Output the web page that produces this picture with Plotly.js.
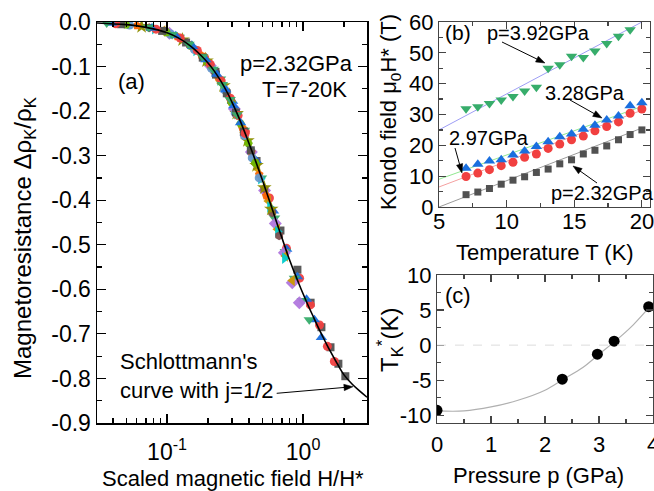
<!DOCTYPE html>
<html><head><meta charset="utf-8">
<script src="https://cdn.plot.ly/plotly-3.0.1.min.js"></script>
<style>html,body{margin:0;padding:0;background:#fff}#plot{width:654px;height:491px}</style>
</head><body><div id="plot"></div><script>
// ---------- panel (a): scaled magnetoresistance, p = 2.32 GPa, T = 7-20 K ----------
const seriesTemps = [7,7.9,8.7,9.6,10.5,11.3,12.2,13.0,13.9,14.8,15.7,16.5,17.4,18.3,19.1,20];
const scaledField = [
 [0.227,0.455,0.682,0.909,1.136,1.364,1.591,1.818,2.045],
 [0.189,0.377,0.566,0.755,0.943,1.132,1.321,1.509,1.698],
 [0.152,0.303,0.455,0.606,0.758,0.909,1.061,1.212,1.364],
 [0.123,0.247,0.370,0.494,0.617,0.741,0.864,0.988,1.111],
 [0.104,0.208,0.313,0.417,0.521,0.625,0.729,0.833,0.938],
 [0.093,0.185,0.278,0.370,0.463,0.556,0.648,0.741,0.833],
 [0.081,0.163,0.244,0.325,0.407,0.488,0.569,0.650,0.732],
 [0.074,0.148,0.222,0.296,0.370,0.444,0.519,0.593,0.667],
 [0.065,0.130,0.195,0.260,0.325,0.390,0.455,0.519,0.584],
 [0.060,0.119,0.179,0.238,0.298,0.357,0.417,0.476,0.536],
 [0.053,0.106,0.159,0.212,0.265,0.317,0.370,0.423,0.476],
 [0.050,0.099,0.149,0.198,0.248,0.297,0.347,0.396,0.446],
 [0.046,0.092,0.138,0.183,0.229,0.275,0.321,0.367,0.413],
 [0.042,0.083,0.125,0.167,0.208,0.250,0.292,0.333,0.375],
 [0.039,0.077,0.116,0.154,0.193,0.232,0.270,0.309,0.347],
 [0.036,0.073,0.109,0.145,0.182,0.218,0.255,0.291,0.327]];
const magnetoRes = [
 [-0.112,-0.312,-0.468,-0.556,-0.630,-0.685,-0.730,-0.767,-0.795],
 [-0.080,-0.246,-0.395,-0.508,-0.575,-0.635,-0.680,-0.728,-0.762],
 [-0.052,-0.178,-0.312,-0.424,-0.510,-0.572,-0.622,-0.668,-0.708],
 [-0.034,-0.128,-0.243,-0.350,-0.440,-0.515,-0.575,-0.625,-0.668],
 [-0.025,-0.098,-0.195,-0.292,-0.378,-0.452,-0.518,-0.585,-0.630],
 [-0.020,-0.080,-0.160,-0.248,-0.330,-0.402,-0.465,-0.525,-0.580],
 [-0.015,-0.064,-0.130,-0.206,-0.285,-0.352,-0.415,-0.470,-0.530],
 [-0.013,-0.053,-0.110,-0.178,-0.248,-0.314,-0.374,-0.428,-0.480],
 [-0.010,-0.040,-0.087,-0.143,-0.205,-0.266,-0.322,-0.372,-0.420],
 [-0.008,-0.033,-0.075,-0.125,-0.180,-0.237,-0.292,-0.342,-0.390],
 [-0.007,-0.027,-0.062,-0.104,-0.152,-0.204,-0.255,-0.305,-0.350],
 [-0.006,-0.023,-0.053,-0.090,-0.133,-0.180,-0.228,-0.272,-0.316],
 [-0.005,-0.020,-0.046,-0.080,-0.118,-0.160,-0.203,-0.246,-0.288],
 [-0.004,-0.016,-0.036,-0.064,-0.095,-0.132,-0.171,-0.210,-0.250],
 [-0.003,-0.014,-0.031,-0.055,-0.085,-0.117,-0.152,-0.188,-0.226],
 [-0.002,-0.012,-0.028,-0.050,-0.078,-0.106,-0.140,-0.174,-0.208]];
// Schlottmann's curve (j = 1/2)
const schlottX = [0.03,0.05,0.07,0.1,0.12,0.14,0.16,0.18,0.2,0.22,0.25,0.28,0.3,0.33,0.36,0.4,0.45,0.5,0.55,0.6,0.65,0.7,0.75,0.8,0.85,0.9,1.0,1.1,1.2,1.3,1.4,1.5,1.6,1.8,2.0,2.3,2.6,2.95];
const schlottY = [-0.002,-0.006,-0.012,-0.024,-0.035,-0.048,-0.062,-0.077,-0.092,-0.108,-0.134,-0.161,-0.180,-0.208,-0.236,-0.272,-0.314,-0.353,-0.390,-0.424,-0.456,-0.485,-0.512,-0.536,-0.557,-0.576,-0.610,-0.639,-0.664,-0.687,-0.707,-0.725,-0.741,-0.769,-0.792,-0.813,-0.828,-0.842];
const mrTickVals = [0,-0.1,-0.2,-0.3,-0.4,-0.5,-0.6,-0.7,-0.8,-0.9];
const mrTickText = ['0.0','-0.1','-0.2','-0.3','-0.4','-0.5','-0.6','-0.7','-0.8','-0.9'];
const fieldTickVals = [0.1,1];
const fieldTickText = ['10<sup>-1</sup>','10<sup>0</sup>'];
const fieldMinorVals = [0.04,0.05,0.06,0.07,0.08,0.09,0.2,0.3,0.4,0.5,0.6,0.7,0.8,0.9,2];

// ---------- panel (b): Kondo field vs temperature ----------
const kondoT = [7,7.87,8.73,9.6,10.47,11.33,12.2,13.07,13.93,14.8,15.67,16.53,17.4,18.27,19.13,20];
const kondoH232 = [4.0,4.85,6.0,7.4,8.7,9.8,11.2,12.3,14.0,15.3,17.2,18.4,19.8,21.8,23.5,25.0];
const kondoH297 = [9.9,11.0,12.1,13.4,14.5,16.1,17.2,19.0,20.4,21.8,23.0,24.7,26.1,27.6,30.4,31.8];
const kondoH328 = [12.6,13.9,14.9,15.3,16.9,18.2,19.6,21.2,22.8,23.7,25.2,26.5,28.2,29.5,32.8,33.8];
const kondoT392 = [7,7.87,8.73,9.6,10.47,11.33,12.2,13.07,13.93,14.8,15.67,16.53,17.4,18.27,19.13];
const kondoH392 = [31.9,32.5,33.6,34.7,35.8,37.6,38.8,45.0,46.1,48.9,48.5,50.6,53.0,55.4,57.5];
const fitT = [5,20];
const fitH232 = [0,25.6];
const fitH297 = [6.5,31.4];
const fitH328 = [9.0,32.6];
const fitH392 = [25.0,60.0];
const tempTickVals = [5,10,15,20];
const kondoTickVals = [0,10,20,30,40,50,60];

// ---------- panel (c): T_K* vs pressure ----------
const pressure = [0,2.32,2.97,3.28,3.92];
const tkStar = [-9.3,-4.86,-1.29,0.57,5.48];
const tkFitP = [0,0.5,1.0,1.5,2.0,2.34,2.7,3.0,3.3,3.63,3.94];
const tkFitT = [-9.38,-9.38,-8.81,-7.86,-6.43,-4.86,-3.19,-1.29,0.57,2.86,5.48];
const pressTickVals = [0,1,2,3,4];
const tkTickVals = [10,5,0,-5,-10];
const tkTickText = ['10','5','0','-5','-10'];

const palette = ['#515151','#F14040','#1A6FDF','#37AD6B','#B177DE','#CC9900','#00CBCC','#7D4E4E','#8E8E00','#FB6501','#6699CC','#6FB802'];
const symbols = ['square','circle','triangle-up','triangle-down','diamond','triangle-left','triangle-right','hexagon','star','pentagon','circle','hexagon2'];
const sizes = {'square':8,'circle':9,'triangle-up':10,'triangle-down':10,'diamond':10,'triangle-left':10,'triangle-right':10,'hexagon':9,'star':11,'pentagon':9,'hexagon2':9};

const traces = [];
seriesTemps.forEach((T,i)=>{
  const sym = symbols[i % symbols.length];
  traces.push({x:scaledField[i], y:magnetoRes[i], xaxis:'x', yaxis:'y', type:'scatter', mode:'markers',
    name:T+' K', marker:{symbol:sym, size:sizes[sym], color:palette[i % palette.length], line:{width:0}, opacity:0.95}});
});
traces.push({x:schlottX, y:schlottY, xaxis:'x', yaxis:'y', mode:'lines', line:{color:'#000', width:1.6, shape:'spline'}});

traces.push({x:fitT, y:fitH232, xaxis:'x2', yaxis:'y2', mode:'lines', line:{color:'#9a9a9a', width:1}});
traces.push({x:fitT, y:fitH297, xaxis:'x2', yaxis:'y2', mode:'lines', line:{color:'#f4a0a0', width:1}});
traces.push({x:fitT, y:fitH328, xaxis:'x2', yaxis:'y2', mode:'lines', line:{color:'#90e890', width:1}});
traces.push({x:fitT, y:fitH392, xaxis:'x2', yaxis:'y2', mode:'lines', line:{color:'#9d9df5', width:1}});
traces.push({x:kondoT, y:kondoH232, xaxis:'x2', yaxis:'y2', mode:'markers', marker:{symbol:'square', size:7, color:'#515151'}});
traces.push({x:kondoT, y:kondoH297, xaxis:'x2', yaxis:'y2', mode:'markers', marker:{symbol:'circle', size:9, color:'#F14040'}});
traces.push({x:kondoT, y:kondoH328, xaxis:'x2', yaxis:'y2', mode:'markers', marker:{symbol:'triangle-up', size:10, color:'#1A6FDF'}});
traces.push({x:kondoT392, y:kondoH392, xaxis:'x2', yaxis:'y2', mode:'markers', marker:{symbol:'triangle-down', size:10, color:'#37AD6B'}});

traces.push({x:tkFitP, y:tkFitT, xaxis:'x3', yaxis:'y3', mode:'lines', line:{color:'#b0b0b0', width:1.2, shape:'spline'}});
traces.push({x:pressure, y:tkStar, xaxis:'x3', yaxis:'y3', mode:'markers', marker:{symbol:'circle', size:11, color:'#000'}});

const W=654, H=491;
const px = v => v/W, py = v => 1 - v/H;
const FONT = 'Liberation Sans, Arial, sans-serif';
const axBase = {showgrid:false, zeroline:false, showline:true, mirror:'allticks', ticks:'inside', ticklabeloverflow:'allow',
  ticklen:7, tickwidth:1.2, tickfont:{size:22, color:'#000', family:FONT}};

const layout = {
  width:W, height:H, margin:{l:0,r:0,t:0,b:0}, paper_bgcolor:'#fff', plot_bgcolor:'#fff',
  showlegend:false, font:{family:FONT, color:'#000', size:22},
  xaxis:Object.assign({}, axBase, {domain:[px(97),px(367)], anchor:'y', type:'log', range:[-1.515,0.47],
    tickmode:'array', tickvals:fieldTickVals, ticktext:fieldTickText, linecolor:'#000', linewidth:1.5, tickcolor:'#000', ticklen:9,
    ticklabelstandoff:8, tickfont:{size:23, color:'#000', family:FONT},
    minor:{tickmode:'array', tickvals:fieldMinorVals, ticks:'inside', ticklen:5, tickcolor:'#000', tickwidth:1.2}}),
  yaxis:Object.assign({}, axBase, {domain:[py(423),py(22)], anchor:'x', range:[-0.9,0],
    tickmode:'array', tickvals:mrTickVals, ticktext:mrTickText, linecolor:'#000', linewidth:1.5, tickcolor:'#000', ticklen:9,
    tickfont:{size:23, color:'#000', family:FONT},
    minor:{dtick:0.05, ticks:'inside', ticklen:5, tickcolor:'#000', tickwidth:1.2}}),
  xaxis2:Object.assign({}, axBase, {domain:[px(439),px(650)], anchor:'y2', range:[5,20.6],
    tickmode:'array', tickvals:tempTickVals, linecolor:'#444', linewidth:1, tickcolor:'#444', ticklabelstandoff:-5,
    minor:{dtick:2.5, ticks:'inside', ticklen:4, tickcolor:'#444'}}),
  yaxis2:Object.assign({}, axBase, {domain:[py(207),py(22)], anchor:'x2', range:[0,60],
    tickmode:'array', tickvals:kondoTickVals, linecolor:'#444', linewidth:1, tickcolor:'#444',
    minor:{dtick:5, ticks:'inside', ticklen:4, tickcolor:'#444'}}),
  xaxis3:Object.assign({}, axBase, {domain:[px(437),px(653)], anchor:'y3', range:[0,4],
    tickmode:'array', tickvals:pressTickVals, linecolor:'#444', linewidth:1, tickcolor:'#444', ticklabelstandoff:2,
    minor:{dtick:0.5, ticks:'inside', ticklen:4, tickcolor:'#444'}}),
  yaxis3:Object.assign({}, axBase, {domain:[py(423),py(275)], anchor:'x3', range:[-11.1,10],
    tickmode:'array', tickvals:tkTickVals, ticktext:tkTickText, linecolor:'#444', linewidth:1, tickcolor:'#444',
    minor:{dtick:2.5, ticks:'inside', ticklen:4, tickcolor:'#444'}}),
  shapes:[{type:'line', xref:'x3 domain', x0:0, x1:1, yref:'y3', y0:0, y1:0, line:{color:'#dcdcdc', width:1, dash:'dash'}}],
  annotations:[]
};
const A = layout.annotations, S = layout.shapes;
function txt(t, x, y, size, opts){ A.push(Object.assign({text:t, xref:'paper', yref:'paper', x:px(x), y:py(y), xanchor:'center', yanchor:'middle', showarrow:false, font:{size:size, color:'#000', family:FONT}}, opts||{})); }
// arrow drawn as a line shape with a filled triangular head (pixel positions of the annotation arrows)
function arrow(hx, hy, tx, ty){
  const dx = hx-tx, dy = hy-ty, L = Math.hypot(dx,dy), ux = dx/L, uy = dy/L, nx = -uy, ny = ux;
  const hl = 9, hw = 3.2;
  const bx = hx-ux*hl, by = hy-uy*hl;
  S.push({type:'line', xref:'paper', yref:'paper', x0:px(tx), y0:py(ty), x1:px(bx+ux*2), y1:py(by+uy*2), line:{color:'#000', width:1}});
  const p = [[hx,hy],[bx+nx*hw,by+ny*hw],[bx-nx*hw,by-ny*hw]].map(q=>px(q[0]).toFixed(5)+','+py(q[1]).toFixed(5));
  S.push({type:'path', xref:'paper', yref:'paper', path:'M'+p[0]+' L'+p[1]+' L'+p[2]+' Z', fillcolor:'#000', line:{color:'#000', width:0.5}});
}
// axis titles
txt('Scaled magnetic field H/H*', 233, 478, 22);
txt('Magnetoresistance \u0394\u03c1<sub>K</sub>/\u03c1<sub>K</sub>', 25, 238, 24, {textangle:-90});
txt('Temperature T (K)', 545, 253, 22);
txt('Kondo field \u03bc<sub>0</sub>H* (T)', 390, 112, 22, {textangle:-90});
txt('Pressure p (GPa)', 538, 475, 22);
txt('T<sub>K</sub><sup>*</sup>(K)', 390, 340, 24, {textangle:-90});
// panel (a) texts
txt('(a)', 131, 81, 22);
txt('p=2.32GPa', 296, 63, 22);
txt('T=7-20K', 304, 89, 22);
txt("Schlottmann's<br>curve with j=1/2", 118, 376, 22, {xanchor:'left', align:'left'});
arrow(353, 386.7, 276.7, 393.3);
// panel (b) texts
txt('(b)', 458, 33, 21);
txt('p=3.92GPa', 538, 33, 20);
txt('3.28GPa', 585, 93, 20);
txt('2.97GPa', 489, 138, 20);
txt('p=2.32GPa', 602, 193, 20);
arrow(545, 63, 502, 42);
arrow(602, 118, 570, 100);
arrow(462, 173, 455, 148);
arrow(573, 166, 597, 183);
// panel (c)
txt('(c)', 458, 295, 22);

Plotly.newPlot('plot', traces, layout, {staticPlot:true, displayModeBar:false});
</script></body></html>
